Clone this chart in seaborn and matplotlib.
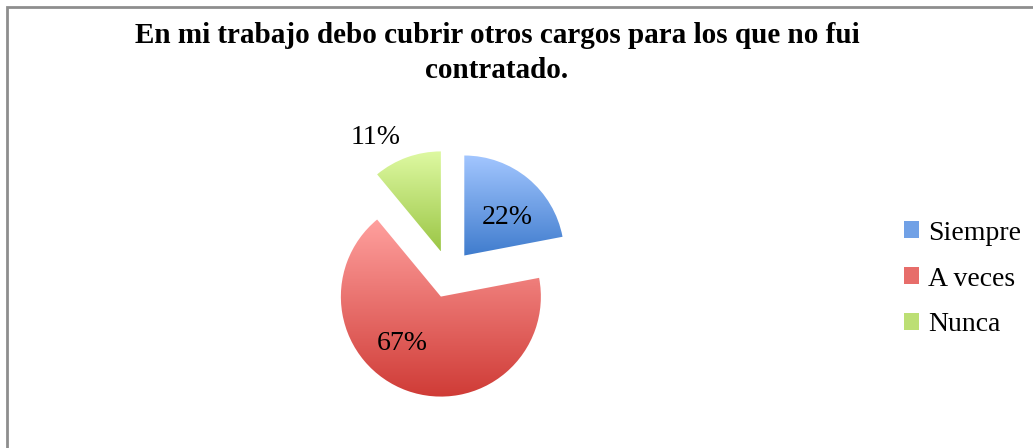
import numpy as np
import matplotlib
matplotlib.use("Agg")
import matplotlib.pyplot as plt
from matplotlib.patches import Patch, Rectangle
import seaborn as sns

# datos del grafico
categorias = ["Siempre", "A veces", "Nunca"]
porcentajes = [22, 67, 11]
etiquetas = ["22%", "67%", "11%"]
titulo = "En mi trabajo debo cubrir otros cargos para los que no fui\ncontratado."

# colores (arriba -> abajo del degradado)
tonos_claros = ["#A3C6FF", "#FFA09E", "#DEF9A2"]
tonos_oscuros = ["#3F7CCD", "#CF3B36", "#9BC646"]

sns.set_theme(style="white")
plt.rcParams["font.family"] = ["Liberation Serif", "DejaVu Serif"]
plt.rcParams["text.color"] = "black"

fig = plt.figure(figsize=(10.33, 4.48), dpi=100)
W, H = 1033, 448

# marco gris alrededor
fig.patches.append(Rectangle((7 / W, -0.05), 1.2, (441 / H) + 0.05, transform=fig.transFigure,
                             fill=False, edgecolor="#8e8e8e", linewidth=2.0))

# eje para la torta: 1 unidad = 100 px, centro en (449, 274)
cx, cy = 449, H - 274
ax = fig.add_axes([(cx - 200) / W, (cy - 150) / H, 400 / W, 300 / H])

wedges, _ = ax.pie(porcentajes, startangle=90, counterclock=False,
                   explode=[0.24, 0.24, 0.24], radius=1.0,
                   wedgeprops=dict(linewidth=0))

for w, c1, c2 in zip(wedges, tonos_claros, tonos_oscuros):
    cmap = sns.blend_palette([c2, c1], as_cmap=True)
    verts = w.get_path().vertices
    x0, y0 = verts.min(axis=0)
    x1, y1 = verts.max(axis=0)
    grad = np.linspace(0, 1, 256).reshape(-1, 1)
    im = ax.imshow(grad, cmap=cmap, origin="lower", extent=[x0, x1, y0, y1],
                   aspect="auto", interpolation="bilinear", zorder=1)
    im.set_clip_path(w)
    w.set_facecolor("none")

# posiciones de las etiquetas de porcentaje (como en el original)
pos_etiquetas = [(0.58, 0.56), (-0.47, -0.69), (-0.73, 1.37)]
for txt, (tx, ty) in zip(etiquetas, pos_etiquetas):
    ax.text(tx, ty, txt, ha="center", va="center", fontsize=20, color="black", zorder=3)

ax.set_xlim(-2, 2)
ax.set_ylim(-1.5, 1.5)
ax.set_aspect("equal")
ax.axis("off")

fig.text(497 / W, 1 - 53 / H, titulo, ha="center", va="center", fontsize=21,
         fontweight="bold", linespacing=1.35, color="black")

handles = [Patch(facecolor=sns.blend_palette([a, b], 3)[1], edgecolor="none")
           for a, b in zip(tonos_claros, tonos_oscuros)]
leg = fig.legend(handles, categorias, loc="center left", bbox_to_anchor=(893 / W, 1 - 279 / H),
                 frameon=False, fontsize=20, handlelength=0.55, handleheight=0.55,
                 handletextpad=0.3, labelspacing=0.75, borderaxespad=0)
for t in leg.get_texts():
    t.set_color("black")

fig.savefig("out.png", dpi=100, facecolor="white")
